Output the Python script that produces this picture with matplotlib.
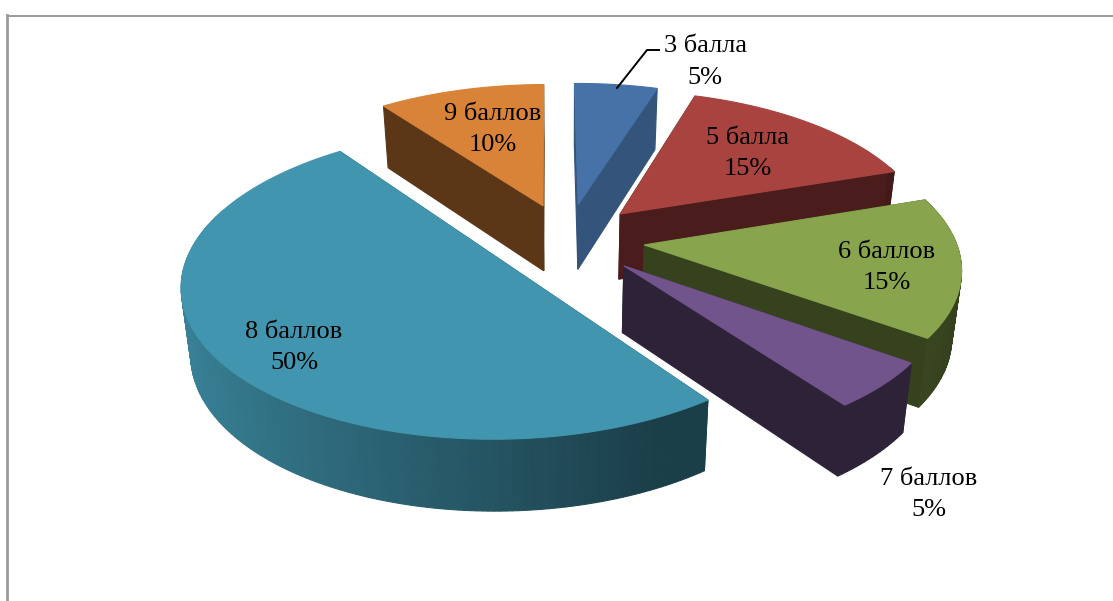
import numpy as np
import matplotlib
matplotlib.use("Agg")
import matplotlib.pyplot as plt
from matplotlib.patches import Polygon

# Data
labels = ["3 балла", "5 балла", "6 баллов", "7 баллов", "8 баллов", "9 баллов"]
percents = [5, 15, 15, 5, 50, 10]

# Style per slice, same order as labels
top_colors = ["#4672A8", "#A84340", "#88A44C", "#72548C", "#4195AE", "#D98339"]
side_shade = [0.74, 0.44, 0.40, 0.40, 0.42, 0.42]
draw_order = [0, 5, 1, 2, 3, 4]
label_xy = [(705, 62), (748, 153.5), (887, 267.5), (929, 494.5), (294, 347.5), (493, 129.5)]

# Projection of the tilted pie, in pixels of the picture
cx, cy = 567, 239.5
rx, ry = 311, 146.5
persp = 0.137
depth = 66
explode = 0.25
start_angle = np.radians(-0.5)


def project(x, y, z=0.0):
    s = 1 / (1 + persp * y)
    return cx + rx * x * s * (1 - 0.025 * z), cy - ry * y * s + depth * z * s ** 0.5


def shaded(color, f):
    rgb = np.array(matplotlib.colors.to_rgb(color))
    return tuple(rgb * min(f, 1.0))


def face(ax, pts, color):
    ax.add_patch(Polygon(pts, closed=True, facecolor=color, edgecolor=color, linewidth=0.8))


fig = plt.figure(figsize=(11.13, 6.01), dpi=100)
ax = fig.add_axes([0, 0, 1, 1])
ax.set_xlim(0, 1113)
ax.set_ylim(601, 0)
ax.axis("off")

# thin frame of the chart area, cut off at the right and bottom
ax.plot([7, 1113], [15.5, 15.5], color="#8a8a8a", lw=1.2)
ax.plot([7, 7], [15, 601], color="#9a9a9a", lw=2.0)

edges = start_angle + np.cumsum([0] + percents) / 100 * 2 * np.pi

for i in draw_order:
    a0, a1 = edges[i], edges[i + 1]
    mid = (a0 + a1) / 2
    ox, oy = explode * np.sin(mid), explode * np.cos(mid)
    th = np.linspace(a0, a1, max(int((a1 - a0) * 60), 8))
    px = ox + np.sin(th)
    py = oy + np.cos(th)
    col = top_colors[i]

    walls = []
    # two flat cut faces
    for a in (a0, a1):
        ex, ey = ox + np.sin(a), oy + np.cos(a)
        pts = [project(ox, oy), project(ex, ey), project(ex, ey, 1), project(ox, oy, 1)]
        walls.append((oy + np.cos(a) / 2, pts, shaded(col, side_shade[i])))
    # rim, split in small pieces so the shade can run along it
    for k in range(len(th) - 1):
        # only the front of the rim can be seen
        if np.cos(th[k]) > 0.35:
            continue
        pts = [project(px[k], py[k]), project(px[k + 1], py[k + 1]),
               project(px[k + 1], py[k + 1], 1), project(px[k], py[k], 1)]
        if i == 4:
            f = max(0.88 - 0.317 * (np.sin(th[k]) + 1), 0.42)
        elif i == 3:
            f = side_shade[i]
        else:
            f = 0.62 - 0.24 * np.sin(th[k])
        walls.append((py[k] - 0.2, pts, shaded(col, f)))

    for _, pts, c in sorted(walls, key=lambda w: -w[0]):
        face(ax, pts, c)

    top = [project(ox, oy)] + [project(x, y) for x, y in zip(px, py)]
    face(ax, top, col)

# leader line of the first label
ax.plot([659, 647, 617], [50, 50, 88], color="black", lw=1.4)

for name, pct, (x, y) in zip(labels, percents, label_xy):
    ax.text(x, y, f"{name}\n{pct}%", ha="center", va="center", family="Liberation Serif",
            fontsize=19, color="black", linespacing=1.57)

fig.savefig("out.png", dpi=100)
